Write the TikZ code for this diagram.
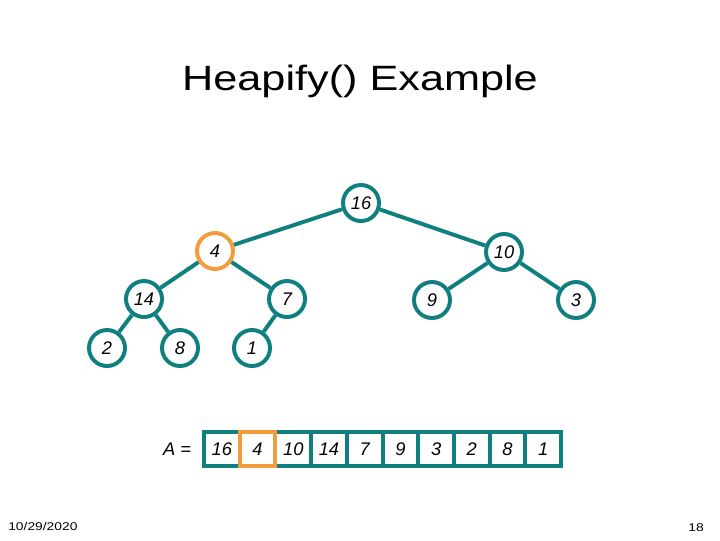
\documentclass[tikz,border=0pt]{standalone}
\usepackage{fontspec}
\usepackage{graphicx}
\setmainfont{Liberation Sans}
\usetikzlibrary{positioning}
\definecolor{heapteal}{HTML}{0F7F7F}
\definecolor{heaporange}{HTML}{F29C3C}
\newcommand{\widetext}[1]{\scalebox{1.23}[1]{#1}}
\tikzset{
  heapnode/.style={circle,draw=heapteal,line width=2.8pt,fill=white,minimum size=0.9cm,inner sep=0pt,font=\fontsize{13}{15}\selectfont\itshape},
  swapnode/.style={draw=heaporange},
  link/.style={draw=heapteal,line width=2.8pt},
  cell/.style={draw=heapteal,line width=2.8pt,fill=white,minimum width=0.8925cm,minimum height=0.85cm,inner sep=0pt,outer sep=0pt,font=\fontsize{13}{15}\selectfont\itshape},
  hilite/.style={draw=heaporange,line width=2.8pt}
}

\begin{document}
\begin{tikzpicture}[x=0.025cm,y=-0.025cm]
    \useasboundingbox (0,0) rectangle (720,540);

    \node[anchor=base,font=\fontsize{25}{29}\selectfont] (title) at (360,90) {\widetext{Heapify() Example}};

    % tree
    \node[heapnode] (n16) at (361,203) {16};
    \node[heapnode,swapnode] (n4) at (215,251) {4};
    \node[heapnode] (n10) at (504,252) {10};
    \node[heapnode] (n14) at (144,299) {14};
    \node[heapnode] (n7) at (287,299) {7};
    \node[heapnode] (n9) at (432,300) {9};
    \node[heapnode] (n3) at (576,300) {3};
    \node[heapnode] (n2) at (107,348) {2};
    \node[heapnode] (n8) at (180,348) {8};
    \node[heapnode] (n1) at (252,348) {1};

    \draw[link] (n16) -- (n4);
    \draw[link] (n16) -- (n10);
    \draw[link] (n4) -- (n14);
    \draw[link] (n4) -- (n7);
    \draw[link] (n10) -- (n9);
    \draw[link] (n10) -- (n3);
    \draw[link] (n14) -- (n2);
    \draw[link] (n14) -- (n8);
    \draw[link] (n7) -- (n1);

    % array
    \node[cell] (c1) at (221.85,449) {16};
    \node[cell,right=0pt of c1] (c2) {4};
    \node[cell,right=0pt of c2] (c3) {10};
    \node[cell,right=0pt of c3] (c4) {14};
    \node[cell,right=0pt of c4] (c5) {7};
    \node[cell,right=0pt of c5] (c6) {9};
    \node[cell,right=0pt of c6] (c7) {3};
    \node[cell,right=0pt of c7] (c8) {2};
    \node[cell,right=0pt of c8] (c9) {8};
    \node[cell,right=0pt of c9] (c10) {1};
    \draw[hilite] (c2.south west) rectangle (c2.north east);
    \node[font=\fontsize{13}{15}\selectfont\itshape] (alabel) at (177,449) {A =};

    \node[anchor=base west,inner sep=0pt,font=\fontsize{8}{10}\selectfont] (date) at (8,530) {\widetext{10/29/2020}};
    \node[anchor=base east,inner sep=0pt,font=\fontsize{8}{10}\selectfont] (page) at (704,531) {\widetext{18}};
\end{tikzpicture}
\end{document}
